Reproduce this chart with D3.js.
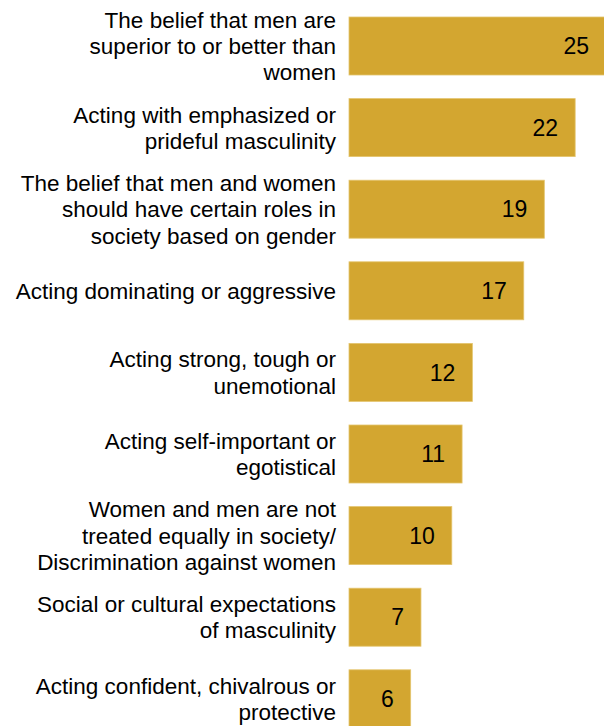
<!DOCTYPE html>
<html>
<head>
<meta charset="utf-8">
<script src="https://cdn.jsdelivr.net/npm/d3@7"></script>
<style>
  html, body { margin: 0; padding: 0; background: #fff; }
  svg { display: block; }
</style>
</head>
<body>
<script>
// Categories (line breaks mark where each label wraps)
const categories = [
  "The belief that men are\nsuperior to or better than\nwomen",
  "Acting with emphasized or\nprideful masculinity",
  "The belief that men and women\nshould have certain roles in\nsociety based on gender",
  "Acting dominating or aggressive",
  "Acting strong, tough or\nunemotional",
  "Acting self-important or\negotistical",
  "Women and men are not\ntreated equally in society/\nDiscrimination against women",
  "Social or cultural expectations\nof masculinity",
  "Acting confident, chivalrous or\nprotective"
];
const values = [25, 22, 19, 17, 12, 11, 10, 7, 6];

const width = 604, height = 726;
const svg = d3.select("body").append("svg")
  .attr("width", width).attr("height", height);

const step = 81.6, barH = 58;
const y = d3.scaleBand()
  .domain(categories)
  .range([17, 17 + 8 * step + barH])
  .paddingInner((step - barH) / step)
  .paddingOuter(0);

const x = d3.scaleLinear().domain([0, 25]).range([349, 349 + 25 * 10.28]);

const data = categories.map((c, i) => ({ cat: c, v: values[i] }));

// Bars
svg.selectAll("rect.bar").data(data).join("rect")
  .attr("class", "bar")
  .attr("x", x(0))
  .attr("y", d => y(d.cat))
  .attr("width", d => x(d.v) - x(0))
  .attr("height", y.bandwidth())
  .attr("fill", "#d3a630")
  .attr("stroke", "#e4c56f")
  .attr("stroke-width", 0.8);

// Value labels inside bars
svg.selectAll("text.val").data(data).join("text")
  .attr("class", "val")
  .attr("x", d => x(d.v) - 17)
  .attr("y", d => y(d.cat) + y.bandwidth() / 2)
  .attr("dy", "0.36em")
  .attr("text-anchor", "end")
  .attr("font-family", "'Liberation Sans', Arial, sans-serif")
  .attr("font-size", 23)
  .attr("fill", "#000")
  .text(d => d.v);

// Category labels, right-aligned and vertically centred on each bar
const lineH = 26.3;
const labels = svg.selectAll("text.cat").data(data).join("text")
  .attr("class", "cat")
  .attr("text-anchor", "end")
  .attr("font-family", "'Liberation Sans', Arial, sans-serif")
  .attr("font-size", 22.5)
  .attr("fill", "#000");

labels.each(function(d) {
  const lines = d.cat.split("\n");
  const cy = y(d.cat) + y.bandwidth() / 2;
  const top = cy - (lines.length - 1) * lineH / 2;
  d3.select(this).selectAll("tspan").data(lines).join("tspan")
    .attr("x", 336)
    .attr("y", (l, i) => top + i * lineH)
    .attr("dy", "0.36em")
    .text(l => l);
});
</script>
</body>
</html>
